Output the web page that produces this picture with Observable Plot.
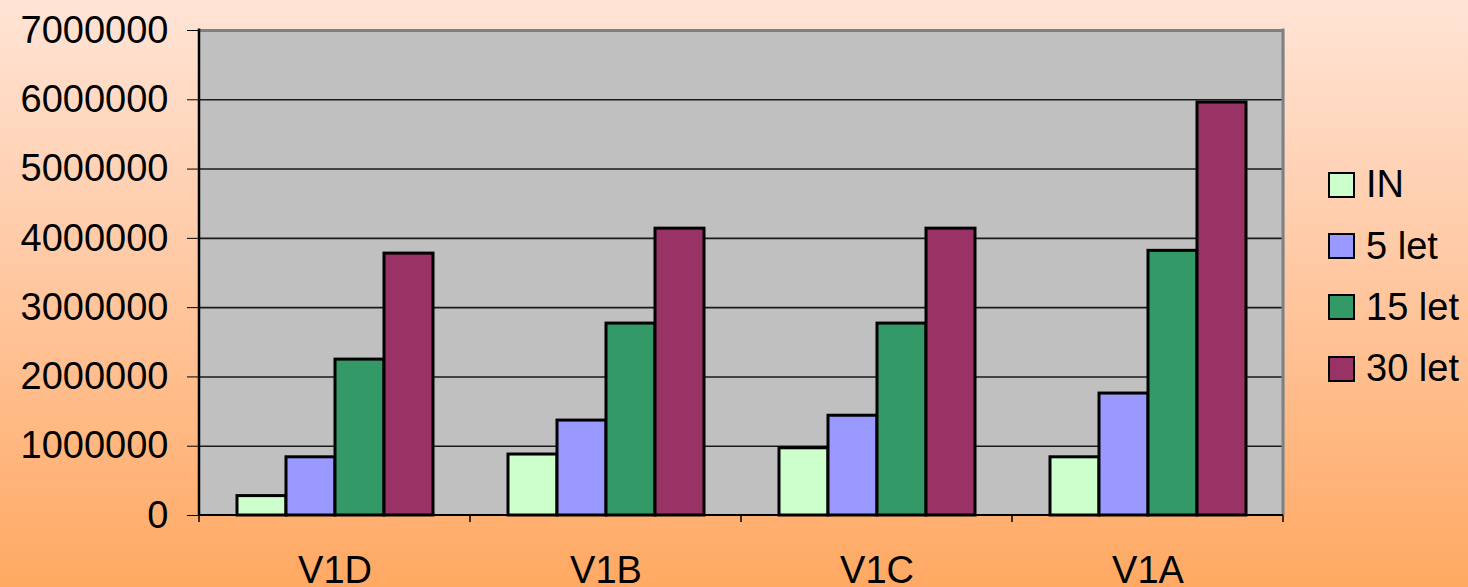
<!DOCTYPE html>
<html>
<head>
<meta charset="utf-8">
<script src="https://cdn.jsdelivr.net/npm/d3@7"></script>
<script src="https://cdn.jsdelivr.net/npm/@observablehq/plot@0.6"></script>
<style>
  html, body { margin: 0; padding: 0; }
  body {
    width: 1468px; height: 587px; overflow: hidden; position: relative;
    background: linear-gradient(to bottom, #FFE4D6 0%, #FFC9A4 45%, #FFA963 100%);
    font-family: "Liberation Sans", Arial, sans-serif;
  }
  #chart { position: absolute; left: 0; top: 0; }
  #legend { position: absolute; left: 1328px; top: 154px; }
  .row { height: 61.4px; display: flex; align-items: center; font-size: 38px; color: #000; }
  .sw { width: 27px; height: 26px; box-sizing: border-box; border: 2px solid #000; margin-right: 11px; }
</style>
</head>
<body>
<div id="chart"></div>
<div id="legend"></div>
<script>
const categories = ["V1D", "V1B", "V1C", "V1A"];
const series = ["IN", "5 let", "15 let", "30 let"];
const valuesIN = [280000, 880000, 970000, 840000];
const values5 = [840000, 1370000, 1440000, 1760000];
const values15 = [2250000, 2770000, 2770000, 3820000];
const values30 = [3780000, 4140000, 4140000, 5960000];
const colors = ["#CCFFCC", "#9999FF", "#339966", "#993366"];
const yTicks = [0, 1000000, 2000000, 3000000, 4000000, 5000000, 6000000, 7000000];

const seriesValues = [valuesIN, values5, values15, values30];
const data = categories.flatMap((c, i) =>
  series.map((s, j) => ({category: c, series: s, value: seriesValues[j][i]}))
);

const chart = Plot.plot({
  width: 1300,
  height: 587,
  marginLeft: 198,
  marginRight: 16,
  marginTop: 30,
  marginBottom: 72,
  style: {background: "transparent", fontFamily: "'Liberation Sans', Arial, sans-serif", fontSize: "38px", color: "#000"},
  fx: {domain: categories, padding: 0, label: null, axis: "bottom", tickSize: 0, tickPadding: 41},
  x: {domain: series, paddingInner: 0, paddingOuter: 0.72, axis: null},
  y: {domain: [0, 7000000], ticks: yTicks, tickFormat: d => String(d), label: null, tickSize: 12, tickPadding: 19},
  color: {domain: series, range: colors},
  marks: [
    Plot.frame({fill: "#C0C0C0", stroke: null, insetLeft: -1, insetRight: -1}),
    Plot.gridY(yTicks.slice(1, -1), {stroke: "#1a1a1a", strokeOpacity: 1, strokeWidth: 1.6}),
    Plot.gridY(yTicks.slice(-1), {stroke: "#808080", strokeOpacity: 1, strokeWidth: 3}),
    Plot.barY(data, {fx: "category", x: "series", y: "value", fill: "series", stroke: "#000", strokeWidth: 3})
  ]
});
document.getElementById("chart").appendChild(chart);

// axis lines and boundary ticks from the plot's own scales
const fx = chart.scale("fx");
const y = chart.scale("y");
const left = fx.apply(categories[0]);
const right = fx.apply(categories[categories.length - 1]) + fx.bandwidth;
const yTop = y.apply(7000000), yBot = y.apply(0);
const svg = d3.select(chart);
const g = svg.append("g");
g.append("line").attr("x1", right).attr("x2", right).attr("y1", yTop - 1.5).attr("y2", yBot)
  .attr("stroke", "#808080").attr("stroke-width", 3);
g.append("line").attr("x1", left).attr("x2", right).attr("y1", yBot).attr("y2", yBot)
  .attr("stroke", "#000").attr("stroke-width", 2);
g.append("line").attr("x1", left).attr("x2", left).attr("y1", yTop - 1.5).attr("y2", yBot + 1)
  .attr("stroke", "#000").attr("stroke-width", 2.5);
categories.forEach((c) => {
  const x0 = fx.apply(c);
  g.append("line").attr("x1", x0).attr("x2", x0).attr("y1", yBot).attr("y2", yBot + 7)
    .attr("stroke", "#000").attr("stroke-width", 1.5);
});
g.append("line").attr("x1", right).attr("x2", right).attr("y1", yBot).attr("y2", yBot + 7)
  .attr("stroke", "#000").attr("stroke-width", 1.5);

// legend
const legend = document.getElementById("legend");
series.forEach((s, i) => {
  const row = document.createElement("div");
  row.className = "row";
  const sw = document.createElement("div");
  sw.className = "sw";
  sw.style.background = colors[i];
  const t = document.createElement("span");
  t.textContent = s;
  row.appendChild(sw);
  row.appendChild(t);
  legend.appendChild(row);
});
</script>
</body>
</html>
